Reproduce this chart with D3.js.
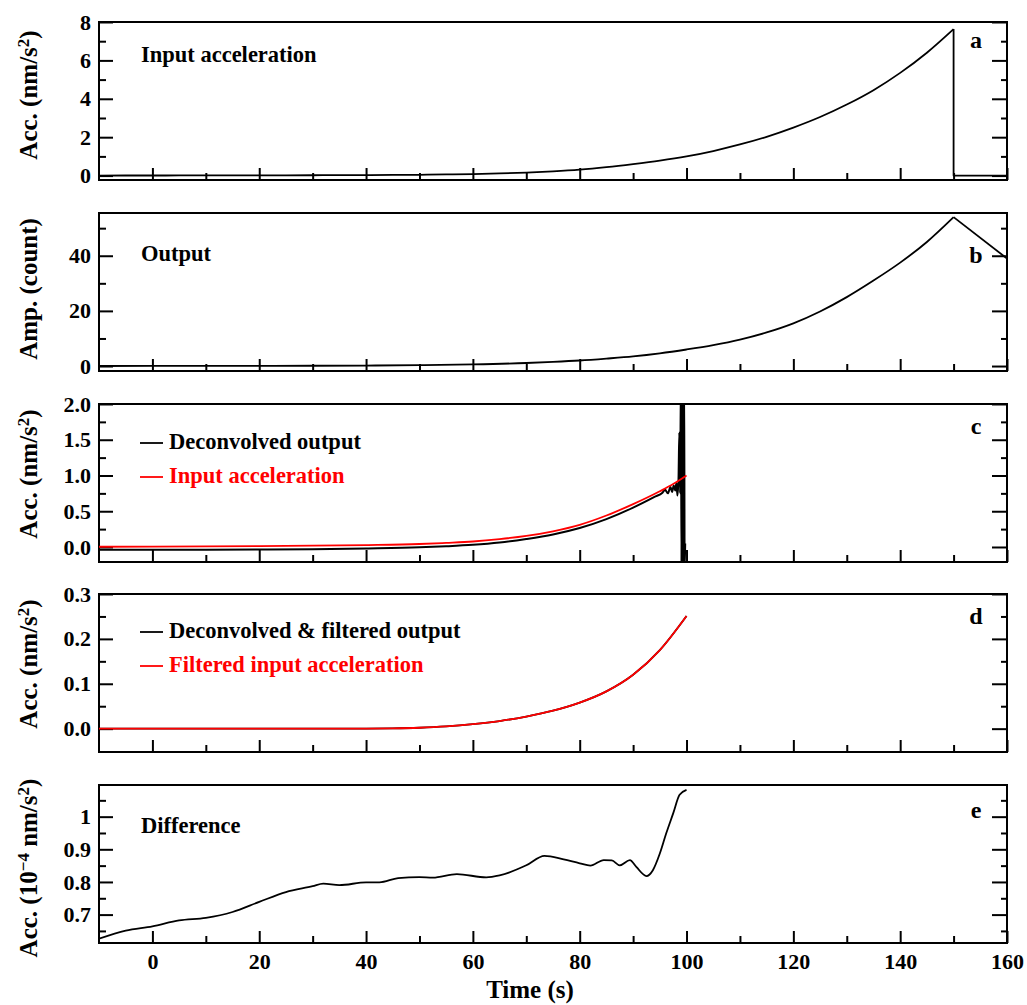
<!DOCTYPE html>
<html>
<head>
<meta charset="utf-8">
<script src="https://cdn.jsdelivr.net/npm/d3@7"></script>
<style>
  body { margin: 0; background: #fff; }
  svg text { font-family: "Liberation Serif", "Times New Roman", serif; font-weight: bold; fill: #000; }
</style>
</head>
<body>
<svg id="chart" width="1027" height="1005"></svg>
<script>
// ---- data ----
// a: input acceleration (nm/s^2)
var timeA = [-10, -5, 0, 5, 10, 15, 20, 25, 30, 35, 40, 45, 50, 55, 60, 65, 70, 75, 80, 85, 90, 95, 100, 105, 110, 115, 120, 125, 130, 135, 140, 145, 150];
var accA = [0.003, 0.004, 0.005, 0.006, 0.008, 0.01, 0.012, 0.015, 0.018, 0.022, 0.027, 0.033, 0.042, 0.058, 0.077, 0.11, 0.155, 0.22, 0.31, 0.44, 0.6, 0.78, 1.0, 1.28, 1.62, 2.02, 2.5, 3.05, 3.7, 4.45, 5.35, 6.4, 7.63];
var dropTimeA = [150, 150, 160];
var dropAccA = [7.63, 0, 0];

// b: output (count)
var timeB = [-10, 0, 10, 20, 30, 40, 50, 60, 70, 75, 80, 85, 90, 95, 100, 105, 110, 115, 120, 125, 130, 135, 140, 145, 150];
var ampB = [0.02, 0.03, 0.04, 0.06, 0.1, 0.17, 0.3, 0.6, 1.1, 1.5, 2.0, 2.7, 3.5, 4.6, 6.0, 7.6, 9.6, 12.2, 15.5, 19.8, 25.0, 31.0, 37.5, 45.0, 54.0];
var tailTimeB = [150, 160];
var tailAmpB = [54.0, 39.0];

// c: deconvolved output vs input acceleration
var timeC = [-10, 0, 10, 20, 30, 40, 50, 55, 60, 65, 70, 75, 80, 85, 90, 95, 97.5, 100];
var inputC = [0.003, 0.005, 0.008, 0.012, 0.018, 0.027, 0.042, 0.058, 0.077, 0.11, 0.155, 0.22, 0.31, 0.44, 0.6, 0.78, 0.88, 1.0];
var timeDec = [-10, 0, 10, 20, 30, 40, 50, 55, 60, 65, 70, 75, 80, 85, 90, 94, 95.5, 96, 96.5, 97, 97.3, 97.6, 97.9, 98.1, 98.3, 98.5, 98.65, 98.8, 98.95, 99.05, 99.15, 99.25, 99.35, 99.45, 99.55, 99.65, 99.75];
var decC = [-0.04, -0.04, -0.038, -0.035, -0.03, -0.02, -0.005, 0.01, 0.03, 0.062, 0.112, 0.175, 0.265, 0.39, 0.55, 0.7, 0.76, 0.8, 0.75, 0.84, 0.77, 0.86, 0.79, 0.9, 0.72, 0.95, 1.6, 0.75, 2.4, -0.3, 2.4, -0.3, 2.4, -0.3, 2.4, -0.3, 0.05];

// d: filtered signals
var timeD = [-10, 0, 10, 20, 30, 40, 45, 50, 55, 60, 65, 70, 75, 80, 85, 90, 95, 100];
var filtInputD = [0, 0, 0, 0, 0, 0, 0.0005, 0.002, 0.005, 0.01, 0.017, 0.027, 0.04, 0.058, 0.083, 0.12, 0.175, 0.251];
var filtDecD = [0, 0, 0, 0, 0, 0, 0.0005, 0.002, 0.005, 0.01, 0.017, 0.027, 0.04, 0.058, 0.083, 0.12, 0.175, 0.251];

// e: difference (1e-4 nm/s^2)
var timeE = [-10, -5, 0, 5, 10, 15, 20, 25, 30, 32, 35, 40, 42.5, 46, 50, 52.5, 57, 62.5, 65, 70, 73.4, 77, 80, 82, 84.5, 86, 87.5, 89.4, 90.6, 92.5, 93.7, 95, 96.2, 97.5, 98.7, 100];
var diffE = [0.626, 0.651, 0.664, 0.682, 0.69, 0.708, 0.739, 0.769, 0.787, 0.795, 0.79, 0.799, 0.799, 0.812, 0.815, 0.813, 0.824, 0.814, 0.82, 0.851, 0.88, 0.869, 0.857, 0.85, 0.867, 0.866, 0.851, 0.867, 0.846, 0.818, 0.836, 0.887, 0.949, 1.01, 1.067, 1.082];

// ticks
var xMajor = [0, 20, 40, 60, 80, 100, 120, 140, 160];
var xMinor = [10, 30, 50, 70, 90, 110, 130, 150];
var xLabels = ["0", "20", "40", "60", "80", "100", "120", "140", "160"];
var ticksA = [0, 2, 4, 6, 8], minorA = [1, 3, 5, 7], labelsA = ["0", "2", "4", "6", "8"];
var ticksB = [0, 20, 40], minorB = [10, 30, 50], labelsB = ["0", "20", "40"];
var ticksC = [0, 0.5, 1, 1.5, 2], minorC = [0.25, 0.75, 1.25, 1.75], labelsC = ["0.0", "0.5", "1.0", "1.5", "2.0"];
var ticksD = [0, 0.1, 0.2, 0.3], minorD = [0.05, 0.15, 0.25], labelsD = ["0.0", "0.1", "0.2", "0.3"];
var ticksE = [0.7, 0.8, 0.9, 1], minorE = [0.65, 0.75, 0.85, 0.95, 1.05], labelsE = ["0.7", "0.8", "0.9", "1"];

// ---- layout ----
var svg = d3.select("#chart");
var left = 99, right = 1007, panelH = 158;
var x = d3.scaleLinear().domain([-10, 160]).range([left, right]);

var panels = [
  {id: "a", top: 22, dom: [-0.23, 8], major: ticksA, minor: minorA, labels: labelsA, letterY: 48, titleShift: -6,
   title: [["Acc. (nm/s", 0], ["2", 1], [")", 0]]},
  {id: "b", top: 213, dom: [-1.8, 55.5], major: ticksB, minor: minorB, labels: labelsB, letterY: 263, titleShift: -3,
   title: [["Amp. (count)", 0]]},
  {id: "c", top: 404, dom: [-0.21, 2.0], major: ticksC, minor: minorC, labels: labelsC, letterY: 434, titleShift: -9,
   title: [["Acc. (nm/s", 0], ["2", 1], [")", 0]]},
  {id: "d", top: 594, dom: [-0.052, 0.3], major: ticksD, minor: minorD, labels: labelsD, letterY: 624, titleShift: -9,
   title: [["Acc. (nm/s", 0], ["2", 1], [")", 0]]},
  {id: "e", top: 785, dom: [0.613, 1.097], major: ticksE, minor: minorE, labels: labelsE, letterY: 818, titleShift: 4,
   title: [["Acc. (10", 0], ["\u22124", 1], [" nm/s", 0], ["2", 1], [")", 0]]}
];

var styleAxis = function(g) {
  g.select(".domain").remove();
  g.selectAll("line").attr("stroke", "#000").attr("stroke-width", 2);
  g.attr("font-family", null).attr("font-size", null);
  g.selectAll("text").style("font-size", "22px");
};

var drawSeries = function(g, y, xs, ys, color, curve, width) {
  var pts = xs.map(function(t, i) { return [t, ys[i]]; });
  var line = d3.line()
      .x(function(d) { return x(d[0]); })
      .y(function(d) { return y(d[1]); })
      .curve(curve);
  g.append("path")
      .datum(pts)
      .attr("d", line)
      .attr("fill", "none")
      .attr("stroke", color)
      .attr("stroke-width", width)
      .attr("stroke-linejoin", "round");
};

panels.forEach(function(p) {
  var bottom = p.top + panelH;
  var y = d3.scaleLinear().domain(p.dom).range([bottom, p.top]);
  p.y = y;

  svg.append("clipPath").attr("id", "clip-" + p.id)
    .append("rect").attr("x", left).attr("y", p.top).attr("width", right - left).attr("height", panelH);

  // y axes, ticks inward on both sides
  svg.append("g").attr("transform", "translate(" + left + ",0)")
      .call(d3.axisLeft(y).tickValues(p.major).tickSizeInner(-14).tickSizeOuter(0).tickPadding(8)
        .tickFormat(function(d, i) { return p.labels[i]; }))
      .call(styleAxis);
  svg.append("g").attr("transform", "translate(" + left + ",0)")
      .call(d3.axisLeft(y).tickValues(p.minor).tickSizeInner(-7).tickSizeOuter(0).tickFormat(""))
      .call(styleAxis);
  svg.append("g").attr("transform", "translate(" + right + ",0)")
      .call(d3.axisRight(y).tickValues(p.major).tickSizeInner(-15).tickSizeOuter(0).tickFormat(""))
      .call(styleAxis);
  svg.append("g").attr("transform", "translate(" + right + ",0)")
      .call(d3.axisRight(y).tickValues(p.minor).tickSizeInner(-6).tickSizeOuter(0).tickFormat(""))
      .call(styleAxis);

  // x axis at bottom
  svg.append("g").attr("transform", "translate(0," + bottom + ")")
      .call(d3.axisBottom(x).tickValues(xMajor).tickSizeInner(-12).tickSizeOuter(0).tickPadding(10)
        .tickFormat(function(d, i) { return p.id === "e" ? xLabels[i] : ""; }))
      .call(styleAxis);
  svg.append("g").attr("transform", "translate(0," + bottom + ")")
      .call(d3.axisBottom(x).tickValues(xMinor).tickSizeInner(-7).tickSizeOuter(0).tickFormat(""))
      .call(styleAxis);

  // frame
  svg.append("rect")
      .attr("x", left).attr("y", p.top)
      .attr("width", right - left).attr("height", panelH)
      .attr("fill", "none").attr("stroke", "#000").attr("stroke-width", 2);

  // y title
  var cy = p.top + panelH / 2 + p.titleShift;
  var t = svg.append("text")
      .attr("transform", "translate(37," + cy + ") rotate(-90)")
      .attr("text-anchor", "middle")
      .style("font-size", "25px");
  var raised = false;
  p.title.forEach(function(s) {
    var ts = t.append("tspan").text(s[0]);
    if (s[1] && !raised) { ts.attr("dy", "-0.45em").style("font-size", "17px"); raised = true; }
    else if (!s[1] && raised) { ts.attr("dy", "0.3em"); raised = false; }
  });

  // panel letter
  svg.append("text")
      .attr("x", 976).attr("y", p.letterY)
      .attr("text-anchor", "middle")
      .style("font-size", "24px")
      .text(p.id);

  p.g = svg.append("g").attr("clip-path", "url(#clip-" + p.id + ")");
});

// ---- series ----
var pa = panels[0], pb = panels[1], pc = panels[2], pd = panels[3], pe = panels[4];

drawSeries(pa.g, pa.y, timeA, accA, "#000", d3.curveMonotoneX, 1.8);
drawSeries(pa.g, pa.y, dropTimeA, dropAccA, "#000", d3.curveLinear, 1.8);

drawSeries(pb.g, pb.y, timeB, ampB, "#000", d3.curveMonotoneX, 1.8);
drawSeries(pb.g, pb.y, tailTimeB, tailAmpB, "#000", d3.curveLinear, 1.8);

drawSeries(pc.g, pc.y, timeDec, decC, "#000", d3.curveMonotoneX, 2);
drawSeries(pc.g, pc.y, timeC, inputC, "#ff0000", d3.curveMonotoneX, 1.8);

drawSeries(pd.g, pd.y, timeD, filtDecD, "#000", d3.curveMonotoneX, 1.8);
drawSeries(pd.g, pd.y, timeD, filtInputD, "#ff0000", d3.curveMonotoneX, 1.8);

drawSeries(pe.g, pe.y, timeE, diffE, "#000", d3.curveMonotoneX, 1.8);

// ---- inner labels and legends ----
var label = function(txt, xx, yy, color) {
  svg.append("text").attr("x", xx).attr("y", yy)
      .style("font-size", "22.5px").style("fill", color || "#000")
      .text(txt);
};
var legendLine = function(yy, color) {
  svg.append("line").attr("x1", 140).attr("x2", 163).attr("y1", yy).attr("y2", yy)
      .attr("stroke", color).attr("stroke-width", 1.8);
};

label("Input acceleration", 141, 62);
label("Output", 141, 261);
legendLine(443, "#000");
label("Deconvolved output", 169, 449);
legendLine(477, "#ff0000");
label("Input acceleration", 169, 483, "#ff0000");
legendLine(632, "#000");
label("Deconvolved & filtered output", 169, 638);
legendLine(666, "#ff0000");
label("Filtered input acceleration", 169, 672, "#ff0000");
label("Difference", 141, 833);

svg.append("text")
    .attr("x", 530).attr("y", 998)
    .attr("text-anchor", "middle")
    .style("font-size", "25px")
    .text("Time (s)");
</script>
</body>
</html>
